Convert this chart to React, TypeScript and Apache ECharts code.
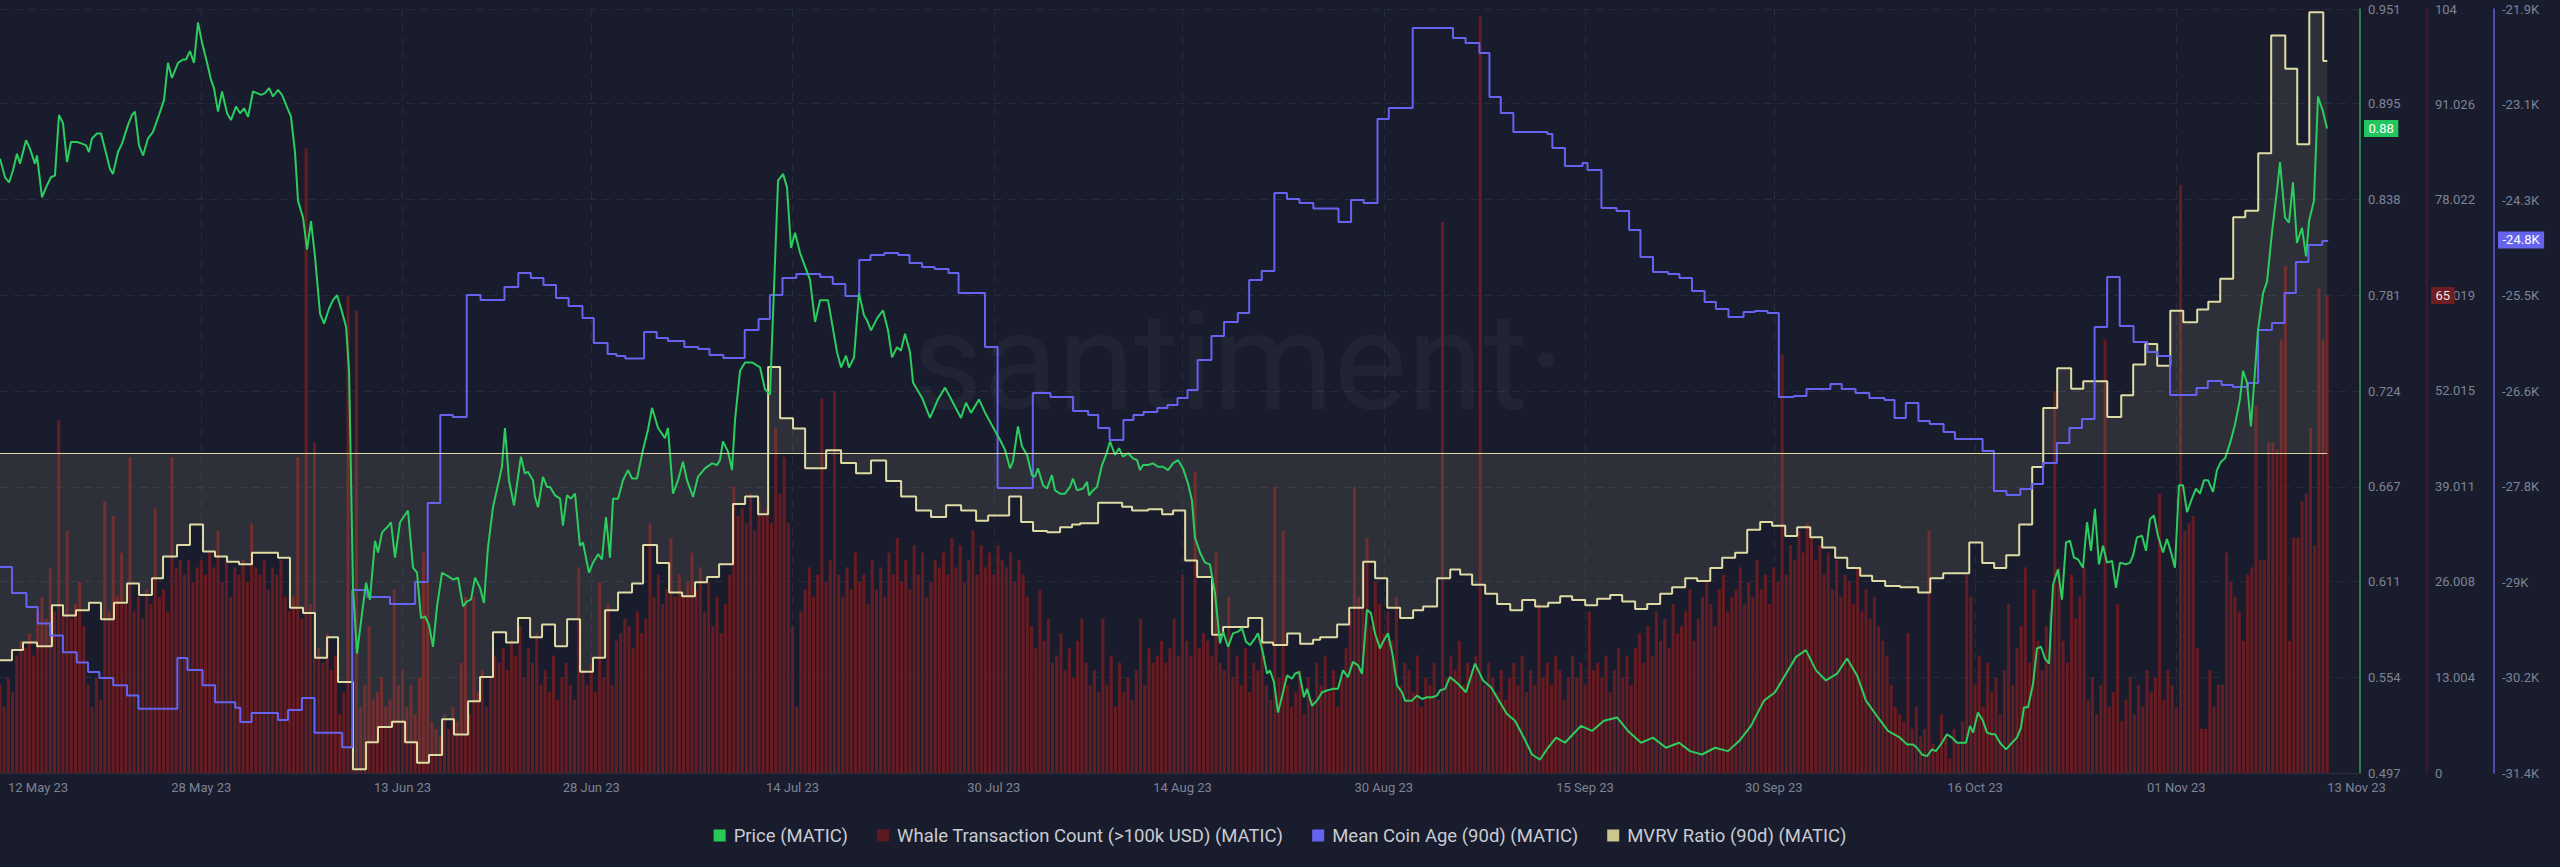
import React, { useEffect, useRef } from "react";
import * as echarts from "echarts";

const BG = "#191c2c";

const priceName = "Price (MATIC)";
const whaleName = "Whale Transaction Count (>100k USD) (MATIC)";
const ageName = "Mean Coin Age (90d) (MATIC)";
const mvrvName = "MVRV Ratio (90d) (MATIC)";

// x axis: days since 12 May 2023
const xLabelDays = [0, 16, 32, 47, 63, 79, 94, 110, 126, 141, 157, 173, 185];
const xLabelTexts = ["12 May 23", "28 May 23", "13 Jun 23", "28 Jun 23", "14 Jul 23", "30 Jul 23", "14 Aug 23", "30 Aug 23", "15 Sep 23", "30 Sep 23", "16 Oct 23", "01 Nov 23", "13 Nov 23"];
const gridDays = [16, 32, 47, 63, 79, 94, 110, 126, 141, 157, 173];
const xMaxDay = 187.6;

const priceTicks = [0.497, 0.554, 0.611, 0.667, 0.724, 0.781, 0.838, 0.895, 0.951];
const whaleTicks = [0, 13.004, 26.008, 39.011, 52.015, 65.019, 78.022, 91.026, 104];
const whaleTickLabels = ["0", "13.004", "26.008", "39.011", "52.015", "65.019", "78.022", "91.026", "104"];
const ageTicks = [-31400, -30212.5, -29025, -27837.5, -26650, -25462.5, -24275, -23087.5, -21900];
const ageTickLabels = ["-31.4K", "-30.2K", "-29K", "-27.8K", "-26.6K", "-25.5K", "-24.3K", "-23.1K", "-21.9K"];

// [day, price]
const priceData = [
  [0,0.862],[0.40,0.851],[0.72,0.848],[1.03,0.855],[1.35,0.865],[1.59,0.859],[2.07,0.873],[2.38,0.868],[2.78,0.859],[2.94,0.864],
  [3.34,0.839],[3.66,0.845],[4.05,0.851],[4.37,0.852],[4.69,0.888],[5.01,0.883],[5.33,0.860],[5.64,0.872],[6.12,0.872],[6.52,0.871],
  [6.84,0.870],[7.07,0.866],[7.31,0.874],[7.71,0.877],[8.03,0.877],[8.51,0.863],[8.74,0.856],[8.98,0.853],[9.38,0.866],[9.70,0.871],
  [10.17,0.882],[10.49,0.888],[10.73,0.890],[11.05,0.870],[11.37,0.864],[11.76,0.874],[12.16,0.878],[12.64,0.888],[13.04,0.897],[13.35,0.919],
  [13.67,0.910],[14.15,0.919],[14.55,0.921],[14.79,0.921],[15.10,0.926],[15.42,0.919],[15.74,0.943],[16.06,0.931],[16.46,0.919],[16.77,0.909],
  [17.01,0.904],[17.33,0.890],[17.65,0.902],[18.05,0.889],[18.36,0.885],[18.76,0.893],[19.08,0.889],[19.40,0.892],[19.72,0.887],[20.11,0.902],
  [20.43,0.901],[20.75,0.900],[21.07,0.901],[21.39,0.904],[21.70,0.899],[22.10,0.903],[22.42,0.900],[22.74,0.894],[23.13,0.887],[23.45,0.866],
  [23.69,0.837],[24.09,0.827],[24.41,0.808],[24.72,0.825],[25.04,0.804],[25.44,0.770],[25.76,0.764],[26.16,0.773],[26.47,0.778],[26.79,0.781],
  [27.19,0.771],[27.51,0.762],[27.75,0.736],[28.06,0.607],[28.38,0.568],[28.78,0.592],[29.10,0.610],[29.41,0.600],[29.81,0.635],[30.05,0.628],
  [30.37,0.640],[30.77,0.643],[31.08,0.646],[31.40,0.625],[31.80,0.646],[32.43,0.653],[32.83,0.619],[33.15,0.616],[33.47,0.589],[33.79,0.590],
  [34.10,0.585],[34.42,0.572],[34.74,0.596],[35.14,0.616],[35.61,0.614],[36.01,0.612],[36.41,0.613],[36.81,0.596],[37.12,0.599],[37.44,0.600],
  [37.76,0.613],[38.16,0.607],[38.47,0.598],[38.79,0.631],[39.19,0.655],[39.67,0.671],[39.90,0.679],[40.14,0.702],[40.46,0.671],[40.86,0.656],
  [41.41,0.685],[41.73,0.675],[41.97,0.676],[42.37,0.671],[42.53,0.661],[42.77,0.655],[43.16,0.673],[43.48,0.667],[43.72,0.667],[44.12,0.662],
  [44.52,0.660],[44.75,0.644],[45.07,0.662],[45.39,0.660],[45.71,0.663],[46.10,0.632],[46.34,0.634],[46.82,0.616],[47.14,0.622],[47.54,0.627],
  [47.85,0.624],[48.17,0.649],[48.49,0.625],[48.73,0.660],[49.13,0.660],[49.52,0.671],[49.92,0.677],[50.24,0.672],[50.64,0.672],[51.11,0.689],
  [51.51,0.701],[51.83,0.714],[52.31,0.702],[52.86,0.696],[53.10,0.702],[53.50,0.663],[53.90,0.671],[54.29,0.682],[54.61,0.671],[55.09,0.661],
  [55.48,0.673],[56.04,0.678],[56.60,0.681],[57.00,0.680],[57.23,0.683],[57.47,0.694],[57.87,0.688],[58.19,0.677],[58.43,0.707],[58.83,0.736],
  [59.22,0.741],[59.78,0.741],[60.42,0.738],[60.81,0.725],[61.21,0.722],[61.85,0.849],[62.25,0.853],[62.56,0.845],[62.88,0.809],[63.20,0.818],
  [63.60,0.806],[63.99,0.798],[64.39,0.790],[64.79,0.765],[65.19,0.778],[65.82,0.778],[66.54,0.747],[66.86,0.738],[67.25,0.745],[67.49,0.738],
  [67.89,0.744],[68.28,0.782],[68.68,0.769],[68.92,0.766],[69.24,0.760],[69.71,0.767],[70.19,0.772],[70.59,0.760],[70.91,0.744],[71.30,0.750],
  [71.62,0.748],[71.94,0.758],[72.34,0.747],[72.58,0.729],[72.89,0.725],[73.29,0.720],[73.93,0.708],[74.56,0.719],[75.12,0.726],[75.76,0.717],
  [76.39,0.708],[76.79,0.717],[77.19,0.711],[77.82,0.719],[78.38,0.710],[79.49,0.695],[79.89,0.689],[80.29,0.678],[80.52,0.682],[80.92,0.703],
  [81.24,0.691],[81.64,0.686],[82.03,0.674],[82.27,0.673],[82.51,0.678],[82.91,0.668],[83.23,0.666],[83.62,0.674],[83.86,0.665],[84.26,0.663],
  [84.66,0.663],[85.06,0.667],[85.29,0.672],[85.61,0.665],[86.09,0.666],[86.41,0.670],[86.57,0.662],[86.88,0.665],[87.20,0.667],[87.60,0.680],
  [87.92,0.686],[88.24,0.694],[88.63,0.686],[88.95,0.690],[89.27,0.685],[89.67,0.687],[90.06,0.684],[90.38,0.683],[90.62,0.677],[90.86,0.680],
  [91.26,0.680],[91.65,0.681],[92.05,0.679],[92.45,0.679],[92.85,0.677],[93.24,0.681],[93.64,0.683],[94.04,0.678],[94.44,0.669],[94.75,0.659],
  [94.99,0.637],[95.39,0.628],[95.79,0.622],[96.18,0.621],[96.58,0.604],[96.98,0.574],[97.22,0.581],[97.62,0.572],[98.01,0.580],[98.41,0.581],
  [98.73,0.583],[99.05,0.575],[99.36,0.573],[99.76,0.577],[100.00,0.580],[100.40,0.568],[100.72,0.556],[100.95,0.558],[101.27,0.551],[101.59,0.533],
  [101.99,0.545],[102.31,0.555],[102.70,0.553],[102.94,0.556],[103.26,0.557],[103.66,0.542],[103.90,0.547],[104.29,0.537],[104.69,0.540],[105.09,0.545],
  [105.48,0.546],[105.96,0.547],[106.36,0.547],[106.76,0.558],[107.15,0.554],[107.55,0.563],[107.95,0.561],[108.27,0.556],[108.66,0.594],[108.98,0.592],
  [109.30,0.580],[109.70,0.571],[109.94,0.575],[110.33,0.580],[110.73,0.566],[111.05,0.549],[111.45,0.545],[111.69,0.540],[112.24,0.540],[112.64,0.543],
  [113.04,0.541],[113.43,0.542],[113.83,0.542],[114.23,0.543],[114.47,0.546],[114.86,0.547],[115.26,0.554],[115.90,0.550],[116.53,0.545],[117.25,0.562],
  [117.89,0.552],[118.52,0.548],[119.16,0.540],[119.79,0.532],[120.43,0.528],[121.14,0.518],[121.78,0.508],[122.42,0.505],[123.05,0.512],[123.69,0.518],
  [124.40,0.515],[125.04,0.520],[125.68,0.525],[126.55,0.522],[127.50,0.528],[128.54,0.530],[129.41,0.522],[130.45,0.515],[131.40,0.518],[132.43,0.512],
  [133.47,0.515],[134.34,0.510],[135.29,0.508],[136.33,0.512],[137.36,0.510],[138.24,0.516],[139.19,0.525],[140.22,0.540],[141.10,0.545],[141.89,0.555],
  [142.77,0.566],[143.56,0.570],[144.36,0.558],[145.15,0.552],[146.03,0.556],[146.82,0.565],[147.62,0.555],[148.33,0.540],[149.28,0.530],[150.08,0.522],
  [151.03,0.518],[151.59,0.514],[152.07,0.514],[152.38,0.512],[152.78,0.508],[153.18,0.507],[153.58,0.511],[153.89,0.510],[154.37,0.515],[154.77,0.520],
  [155.17,0.518],[155.56,0.515],[155.96,0.515],[156.28,0.515],[156.60,0.525],[156.84,0.521],[157.23,0.533],[157.63,0.528],[157.95,0.521],[158.35,0.520],
  [158.59,0.520],[158.98,0.515],[159.46,0.511],[159.94,0.515],[160.33,0.518],[160.65,0.524],[160.89,0.536],[161.21,0.536],[161.61,0.550],[161.92,0.571],
  [162.24,0.572],[162.56,0.565],[162.88,0.562],[163.20,0.609],[163.59,0.618],[163.91,0.600],[164.23,0.634],[164.55,0.635],[164.86,0.625],[165.18,0.624],
  [165.58,0.619],[165.90,0.646],[166.22,0.629],[166.53,0.654],[166.85,0.621],[167.17,0.632],[167.49,0.622],[167.89,0.623],[168.20,0.607],[168.52,0.622],
  [169.00,0.621],[169.32,0.622],[169.55,0.626],[169.87,0.637],[170.27,0.638],[170.59,0.629],[170.91,0.648],[171.22,0.650],[171.54,0.638],[171.94,0.628],
  [172.26,0.636],[172.58,0.628],[172.89,0.619],[173.21,0.668],[173.53,0.668],[173.85,0.652],[174.24,0.660],[174.56,0.666],[174.88,0.663],[175.20,0.671],
  [175.52,0.671],[175.91,0.664],[176.23,0.677],[176.55,0.682],[176.87,0.684],[177.27,0.693],[177.66,0.704],[178.06,0.719],[178.30,0.736],[178.62,0.729],
  [178.93,0.703],[179.49,0.760],[179.89,0.782],[180.21,0.789],[180.60,0.818],[181.00,0.843],[181.24,0.860],[181.64,0.827],[181.96,0.824],[182.27,0.848],
  [182.59,0.812],[182.99,0.821],[183.31,0.804],[183.55,0.825],[183.94,0.837],[184.26,0.899],[184.66,0.890],[184.98,0.880]
];

// whale transactions, three readings per day starting 12 May
const barsPerDay = 3;
const whaleCounts = [
  12,9,13, 11,16,18, 17,19,16, 22,24,21, 28,22,48, 22,33,21, 23,26,20, 12,9,13, 10,37,22, 35,24,30,
  23,43,22, 24,21,25, 23,36,24, 25,22,43, 28,29,27, 29,26,28, 29,27,30, 28,33,26, 29,24,28, 27,29,26,
  34,28,27, 29,25,28, 27,29,24, 22,24,43, 21,85,23, 45,17,15, 19,14,16, 8,11,65, 6,63,9, 12,20,10,
  11,13,9, 10,25,12, 14,9,12, 8,13,30, 26,7,6, 5,8,6, 9,7,15, 24,8,24, 11,14,9, 13,16,15,
  17,14,18, 16,20,13, 17,15,19, 12,14,11, 16,10,13, 15,12,10, 28,14,12, 15,11,26, 13,23,12, 18,19,21,
  20,17,22, 19,21,34, 24,27,23, 25,32,24, 27,24,26, 30,25,28, 22,26,20, 24,19,23, 27,39,35, 36,34,38,
  33,37,35, 36,34,47, 38,43,34, 20,9,22, 25,28,24, 27,51,26, 29,52,27, 24,28,25, 30,26,27, 23,29,25,
  28,24,30, 27,32,26, 29,25,31, 27,30,24, 26,29,28, 30,27,32, 28,31,26, 29,33,27, 31,28,30, 27,31,29,
  28,30,26, 29,27,24, 20,17,25, 18,21,15, 16,19,14, 17,13,18, 21,15,12, 14,11,21, 12,16,9, 15,11,13,
  10,14,21, 12,17,15, 16,18,15, 17,21,16, 27,18,16, 41,17,19, 18,16,30, 15,14,24, 13,16,12, 17,11,15,
  14,20,12, 10,39,13, 33,12,9, 11,14,8, 13,10,15, 12,16,11, 14,9,13, 17,22,39, 24,28,32, 20,26,23,
  19,22,18, 24,12,15, 14,11,16, 9,13,12, 15,10,75, 13,16,14, 18,12,15, 14,16,103, 12,15,13, 11,14,10,
  13,15,12, 16,11,14, 12,23,13, 15,12,16, 14,10,13, 16,13,15, 12,22,14, 15,13,16, 11,14,17, 13,16,12,
  17,19,15, 20,16,22, 18,21,17, 23,19,20, 22,25,18, 21,24,26, 23,20,25, 27,22,24, 25,28,23, 26,24,29,
  25,27,23, 28,26,57, 27,31,29, 33,30,34, 32,29,31, 27,30,25, 29,24,27, 26,23,28, 22,25,21, 24,20,18,
  16,12,9, 8,7,19, 6,9,5, 6,33,4, 3,8,5, 2,6,4, 7,27,24, 12,16,9, 15,11,13, 8,14,23,
  12,17,20, 28,15,25, 18,14,20, 22,52,28, 18,15,27, 21,24,28, 10,13,8, 12,59,9, 11,23,7, 10,13,8,
  12,9,14, 11,13,38, 10,14,12, 9,80,33, 34,35,17, 6,6,14, 9,12,12, 30,26,24, 22,18,27, 28,50,29,
  29,45,45, 44,59,69, 18,32,32, 37,38,47, 31,66,59, 65
];

// [day, mean coin age] at each change
const ageData = [
  [0,-28840],[0.95,-29162],[2.1,-29336],[3.0,-29540],[4.0,-29690],[5.0,-29900],[6.1,-30025],[7.0,-30145],[7.9,-30220],[9.0,-30310],
  [10.1,-30435],[11.0,-30600],[14.1,-29970],[14.9,-30120],[16.1,-30310],[17.1,-30520],[18.7,-30590],[19.1,-30766],[20.0,-30654],[22.1,-30741],
  [22.9,-30617],[24.0,-30468],[25.0,-30900],[27.2,-31080],[28.0,-29125],[29.2,-29212],[31.0,-29299],[33.0,-29025],[34.0,-28043],[35.0,-26949],
  [36.0,-26974],[37.1,-25457],[38.2,-25519],[40.1,-25357],[41.2,-25183],[42.2,-25245],[43.2,-25332],[44.2,-25494],[45.2,-25593],[46.3,-25743],
  [47.2,-26054],[48.3,-26190],[49.0,-26215],[49.7,-26245],[51.2,-25917],[52.2,-25992],[53.1,-26029],[54.4,-26104],[55.5,-26129],[56.4,-26203],
  [57.5,-26240],[59.2,-25892],[60.3,-25755],[61.2,-25457],[62.2,-25245],[63.3,-25195],[65.2,-25232],[66.2,-25320],[67.2,-25469],[68.3,-25021],
  [69.2,-24959],[70.3,-24934],[71.4,-24959],[72.3,-25059],[73.3,-25108],[74.3,-25133],[75.4,-25183],[76.2,-25432],[78.3,-26104],[79.3,-27856],
  [82.1,-26675],[83.5,-26725],[85.3,-26899],[86.5,-26949],[87.3,-27110],[88.2,-27259],[89.3,-27011],[90.1,-26949],[90.9,-26911],[92.0,-26862],
  [92.8,-26824],[93.6,-26737],[94.4,-26638],[95.2,-26264],[96.3,-25966],[97.3,-25792],[98.4,-25681],[99.3,-25270],[100.3,-25158],[101.3,-24189],
  [102.3,-24263],[103.3,-24313],[104.4,-24380],[106.4,-24548],[107.4,-24275],[108.4,-24313],[109.5,-23268],[110.4,-23131],[112.3,-22137],[115.5,-22261],
  [116.5,-22323],[117.6,-22448],[118.4,-22995],[119.3,-23194],[120.3,-23430],[123.0,-23455],[123.4,-23629],[124.4,-23853],[125.8,-23815],[126.2,-23902],
  [127.3,-24375],[128.5,-24412],[129.5,-24649],[130.4,-24984],[131.4,-25171],[132.6,-25195],[133.5,-25245],[134.5,-25407],[135.5,-25544],[136.4,-25631],
  [137.4,-25730],[138.6,-25668],[139.5,-25656],[140.5,-25681],[141.4,-26725],[142.6,-26712],[143.6,-26625],[145.5,-26563],[146.4,-26625],[147.5,-26675],
  [148.6,-26737],[149.8,-26762],[150.6,-26986],[151.5,-26799],[152.5,-27023],[153.4,-27061],[154.5,-27160],[155.4,-27247],[157.6,-27396],[158.5,-27893],
  [159.5,-27943],[160.6,-27869],[161.5,-27806],[162.4,-27545],[163.5,-27297],[164.5,-27110],[165.5,-26999],[166.5,-25854],[167.5,-25233],[168.5,-25842],
  [169.6,-26041],[170.7,-26165],[171.5,-26215],[172.5,-26700],[174.6,-26613],[175.5,-26526],[176.6,-26575],[177.5,-26600],[178.7,-26550],[179.5,-25892],
  [180.6,-25805],[181.6,-25432],[182.5,-25046],[183.5,-24835],[184.6,-24785],[185.0,-24772]
];

// [day, MVRV %] at each change
const mvrvData = [
  [0,-16.2],[0.95,-15.4],[1.83,-14.8],[2.94,-15.1],[4.13,-11.9],[5.01,-12.7],[6.04,-12.3],[7.07,-11.7],[8.03,-13.0],[9.06,-11.7],
  [10.10,-10.2],[11.05,-11.1],[12.08,-9.8],[12.96,-8.1],[14.07,-7.2],[15.10,-5.6],[16.14,-7.7],[17.09,-8.1],[18.05,-8.5],[19.00,-8.7],
  [20.03,-7.8],[22.10,-8.2],[23.05,-12.1],[24.09,-12.5],[25.04,-16.0],[26.00,-14.4],[26.87,-17.9],[28.06,-24.7],[29.10,-22.6],[30.05,-21.4],
  [31.16,-21.0],[32.20,-22.6],[33.15,-24.2],[34.10,-23.6],[35.14,-20.8],[36.09,-22.0],[37.21,-19.4],[38.16,-17.5],[39.19,-14.0],[40.23,-14.8],
  [41.18,-12.9],[42.14,-14.4],[43.09,-13.4],[44.12,-15.1],[45.08,-13.0],[46.11,-17.1],[47.14,-16.0],[48.10,-12.3],[49.13,-10.9],[50.24,-10.2],
  [51.12,-7.2],[52.23,-8.6],[53.19,-10.9],[54.22,-11.2],[55.25,-10.1],[56.21,-9.7],[57.16,-8.7],[58.27,-4.0],[59.23,-3.4],[60.26,-4.8],
  [61.06,6.7],[62.01,2.7],[63.04,1.9],[64.00,-1.2],[65.67,0.2],[66.86,-0.8],[68.05,-1.6],[69.24,-0.6],[70.44,-2.2],[71.63,-3.4],
  [72.82,-4.5],[74.01,-5.0],[75.21,-4.1],[76.40,-4.5],[77.59,-5.3],[78.55,-4.9],[80.22,-3.4],[81.17,-5.4],[82.12,-6.1],[83.24,-6.2],
  [84.27,-5.8],[85.22,-5.6],[85.86,-5.5],[87.29,-3.9],[89.20,-4.2],[89.99,-4.5],[91.27,-4.4],[92.38,-4.8],[93.25,-4.5],[94.21,-8.4],
  [95.16,-9.7],[96.35,-14.2],[97.23,-13.6],[99.22,-12.9],[100.33,-14.8],[101.20,-15.0],[102.32,-14.1],[103.35,-14.9],[104.38,-14.6],[104.94,-14.4],
  [106.29,-13.4],[107.25,-12.1],[108.36,-8.5],[109.31,-9.8],[110.27,-12.1],[111.30,-12.9],[112.33,-12.3],[113.13,-12.0],[114.24,-9.8],[115.28,-9.1],
  [116.07,-9.5],[117.02,-10.3],[118.06,-11.0],[119.01,-11.8],[120.05,-12.3],[121.00,-11.5],[122.03,-12.0],[123.07,-11.7],[124.02,-11.2],[124.97,-11.5],
  [126.01,-11.9],[126.96,-11.4],[128.00,-11.1],[128.95,-11.6],[129.98,-12.2],[130.94,-11.8],[131.97,-11.0],[132.92,-10.5],[133.96,-9.8],[134.91,-10.0],
  [135.95,-9.0],[136.90,-8.2],[137.93,-7.8],[138.89,-6.0],[139.92,-5.4],[140.87,-5.7],[141.91,-6.5],[142.86,-5.8],[143.90,-6.6],[144.85,-7.4],
  [145.88,-8.2],[146.84,-9.0],[147.87,-9.6],[148.82,-10.0],[149.86,-10.4],[151.05,-10.5],[152.48,-10.9],[153.44,-9.8],[154.47,-9.4],[156.54,-7.0],
  [157.57,-8.6],[158.52,-9.0],[159.48,-8.0],[160.51,-5.6],[161.54,-1.1],[162.42,3.5],[163.53,6.6],[164.64,5.0],[165.60,5.6],[167.51,2.8],
  [168.62,4.5],[169.57,6.9],[170.53,8.5],[171.48,6.8],[172.52,11.1],[173.55,10.2],[174.66,11.2],[175.54,11.8],[176.49,13.6],[177.52,18.4],
  [178.48,18.9],[179.51,23.4],[180.54,32.6],[181.66,30.0],[182.61,24.1],[183.57,34.4],[184.68,30.6],[185.0,30.6]
];

const COLORS = {
  price: "#2dcc5f",
  priceLegend: "#28c957",
  priceAxis: "#2f9e52",
  priceTag: "#22c55e",
  whale: "#661c22",
  whaleLegend: "#5e1b1f",
  whaleAxis: "#4a1d26",
  whaleTag: "#6e1d23",
  age: "#6663f0",
  ageAxis: "#5d5ae6",
  ageTag: "#6664ee",
  mvrv: "#dedba4",
  mvrvLegend: "#cbc78c",
  grid: "#272c3d",
  label: "#7d8395",
};

function nearestIndex(arr: number[], v: number) {
  let best = 0;
  for (let i = 1; i < arr.length; i++) if (Math.abs(arr[i] - v) < Math.abs(arr[best] - v)) best = i;
  return best;
}

const GRID_RIGHT = 200;

export default function App() {
  const ref = useRef<HTMLDivElement>(null);
  useEffect(() => {
    const el = ref.current;
    if (!el) return;
    const chart = echarts.init(el, undefined, { renderer: "svg" });
    const labelStyle = { color: COLORS.label, fontSize: 13, fontFamily: "Roboto", margin: 8 };
    const watermark = {
      type: "text",
      id: "watermark",
      x: 1238,
      y: 362,
      z: 0,
      silent: true,
      style: {
        text: "santiment·",
        fill: "rgba(255,255,255,0.035)",
        font: "138px Roboto",
        textAlign: "center",
        textVerticalAlign: "middle",
        verticalAlign: "middle",
      },
    };
    const option: any = {
      animation: false,
      backgroundColor: BG,
      textStyle: { fontFamily: "Roboto" },
      grid: { left: 0, right: GRID_RIGHT, top: 9, bottom: 94, containLabel: false },
      legend: {
        top: 821,
        left: "center",
        icon: "rect",
        itemWidth: 12,
        itemHeight: 12,
        itemGap: 29,
        textStyle: { color: "#c8cbd3", fontSize: 18.5, fontFamily: "Roboto", padding: [0, 0, 0, 3] },
        data: [
          { name: priceName, itemStyle: { color: COLORS.priceLegend } },
          { name: whaleName, itemStyle: { color: COLORS.whaleLegend } },
          { name: ageName, itemStyle: { color: COLORS.age } },
          { name: mvrvName, itemStyle: { color: COLORS.mvrvLegend } },
        ],
      },
      xAxis: {
        type: "value",
        min: 0,
        max: xMaxDay,
        axisLine: { show: true, onZero: false, lineStyle: { color: "#2a2f40" } },
        axisTick: { show: false, customValues: gridDays },
        splitLine: { show: true, lineStyle: { color: COLORS.grid, type: [8, 6], width: 1 } },
        axisLabel: {
          ...labelStyle,
          customValues: xLabelDays,
          alignMinLabel: "left",
          alignMaxLabel: "left",
          rich: { first: { color: COLORS.label, fontSize: 13, fontFamily: "Roboto", padding: [0, 0, 0, 8] } },
          formatter: (v: number) => {
            const i = nearestIndex(xLabelDays, v);
            return i === 0 ? "{first|" + xLabelTexts[i] + "}" : xLabelTexts[i];
          },
        },
      },
      yAxis: [
        {
          type: "value",
          position: "right",
          offset: 0,
          min: priceTicks[0],
          max: priceTicks[priceTicks.length - 1],
          axisLine: { show: true, onZero: false, lineStyle: { color: COLORS.priceAxis, width: 1.5 } },
          axisTick: { show: false, customValues: priceTicks },
          splitLine: { show: true, lineStyle: { color: COLORS.grid, type: [8, 6], width: 1 } },
          axisLabel: { ...labelStyle, customValues: priceTicks, formatter: (v: number) => v.toFixed(3) },
        },
        {
          type: "value",
          position: "right",
          offset: 67,
          min: 0,
          max: whaleTicks[whaleTicks.length - 1],
          axisLine: { show: true, onZero: false, lineStyle: { color: COLORS.whaleAxis, width: 1.5 } },
          axisTick: { show: false, customValues: whaleTicks },
          splitLine: { show: false },
          axisLabel: { ...labelStyle, customValues: whaleTicks, formatter: (v: number) => whaleTickLabels[nearestIndex(whaleTicks, v)] },
        },
        {
          type: "value",
          position: "right",
          offset: 134,
          min: ageTicks[0],
          max: ageTicks[ageTicks.length - 1],
          axisLine: { show: true, onZero: false, lineStyle: { color: COLORS.ageAxis, width: 1.5 } },
          axisTick: { show: false, customValues: ageTicks },
          splitLine: { show: false },
          axisLabel: { ...labelStyle, customValues: ageTicks, formatter: (v: number) => ageTickLabels[nearestIndex(ageTicks, v)] },
        },
        {
          type: "value",
          show: false,
          min: -25,
          max: 34.66,
          axisLine: { onZero: false },
          splitLine: { show: false },
        },
      ],
      graphic: [watermark],
      series: [
        {
          type: "bar",
          name: whaleName,
          xAxisIndex: 0,
          yAxisIndex: 1,
          barWidth: 3,
          itemStyle: { color: COLORS.whale },
          data: whaleCounts.map((v, i) => [i / barsPerDay, v]),
          z: 1,
        },
        {
          type: "line",
          name: mvrvName,
          xAxisIndex: 0,
          yAxisIndex: 3,
          step: "end",
          symbol: "none",
          showSymbol: false,
          lineStyle: { color: COLORS.mvrv, width: 2 },
          itemStyle: { color: COLORS.mvrv },
          areaStyle: { color: "rgba(215,210,168,0.15)" },
          data: mvrvData,
          markLine: {
            silent: true,
            symbol: "none",
            label: { show: false },
            lineStyle: { color: "#d8d5a0", width: 1.2, type: "solid" },
            data: [[{ coord: [0, 0] }, { coord: [mvrvData[mvrvData.length - 1][0], 0] }]],
          },
          z: 2,
        },
        {
          type: "line",
          name: ageName,
          xAxisIndex: 0,
          yAxisIndex: 2,
          step: "end",
          symbol: "none",
          showSymbol: false,
          lineStyle: { color: COLORS.age, width: 2 },
          itemStyle: { color: COLORS.age },
          data: ageData,
          z: 3,
        },
        {
          type: "line",
          name: priceName,
          xAxisIndex: 0,
          yAxisIndex: 0,
          symbol: "none",
          showSymbol: false,
          lineStyle: { color: COLORS.price, width: 2 },
          itemStyle: { color: COLORS.price },
          data: priceData,
          z: 4,
        },
      ],
    };
    chart.setOption(option);

    // last-value tags on the three visible y axes
    const canvas = document.createElement("canvas");
    const ctx = canvas.getContext("2d");
    const measure = (t: string) => {
      if (!ctx) return t.length * 7.3;
      ctx.font = "13px Roboto";
      return ctx.measureText(t).width;
    };
    const lastPrice = priceData[priceData.length - 1][1];
    const lastWhale = whaleCounts[whaleCounts.length - 1];
    const lastAge = ageData[ageData.length - 1][1];
    const axisX = chart.getWidth() - GRID_RIGHT;
    const tags = [
      { axis: 0, value: lastPrice, text: String(Number(lastPrice.toFixed(2))), offset: 0, bg: COLORS.priceTag, color: "#ffffff" },
      { axis: 1, value: lastWhale, text: String(lastWhale), offset: 67, bg: COLORS.whaleTag, color: "#f4e0e0" },
      { axis: 2, value: lastAge, text: (lastAge / 1000).toFixed(1) + "K", offset: 134, bg: COLORS.ageTag, color: "#ffffff" },
    ];
    const tagEls: any[] = [];
    tags.forEach((t, i) => {
      const y = chart.convertToPixel({ yAxisIndex: t.axis } as any, t.value) as number;
      const w = measure(t.text) + 9;
      const x0 = axisX + t.offset + 4;
      tagEls.push({
        type: "rect",
        id: "tagbox" + i,
        z: 10,
        shape: { x: x0, y: y - 8.5, width: w, height: 17 },
        style: { fill: t.bg },
      });
      tagEls.push({
        type: "text",
        id: "tagtext" + i,
        z: 11,
        x: x0 + 4.5,
        y: y,
        style: { text: t.text, fill: t.color, font: "13px Roboto", textAlign: "left", textVerticalAlign: "middle", verticalAlign: "middle" },
      });
    });
    chart.setOption({ graphic: [watermark, ...tagEls] }, { replaceMerge: ["graphic"] } as any);

    return () => chart.dispose();
  }, []);
  return (
    <div
      ref={ref}
      style={{ position: "fixed", left: 0, top: 0, width: 2560, height: 867, background: BG }}
    />
  );
}
